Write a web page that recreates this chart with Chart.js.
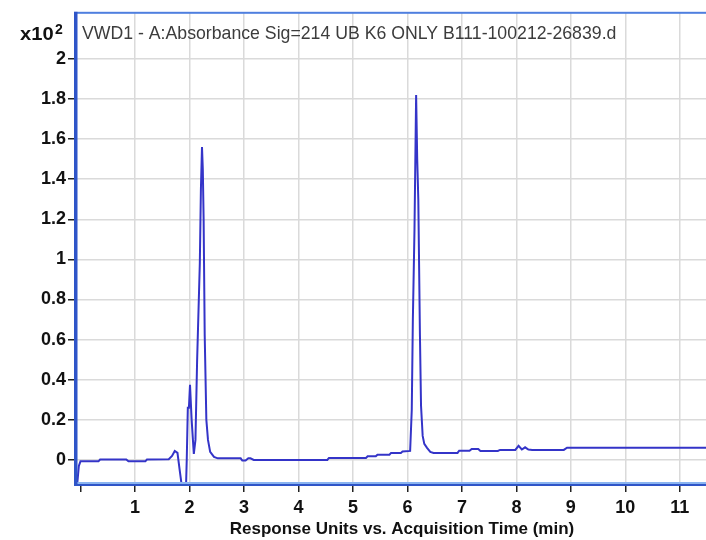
<!DOCTYPE html>
<html>
<head>
<meta charset="utf-8">
<script src="https://cdn.jsdelivr.net/npm/chart.js@4.4.1/dist/chart.umd.min.js"></script>
<style>
html,body{margin:0;padding:0;background:#fff;}
#wrap{width:706px;height:540px;position:relative;}
</style>
</head>
<body>
<div id="wrap"><canvas id="c" width="706" height="540"></canvas></div>
<script>
// Acquisition time (min)
const times = [
  -0.06, -0.03, 0.00, 0.33, 0.36, 0.84, 0.88, 1.19, 1.22, 1.62,
  1.68, 1.73, 1.78, 1.82, 1.85, 1.88, 1.93, 1.95, 1.97, 1.99,
  2.01, 2.04, 2.08, 2.11, 2.14, 2.19, 2.21, 2.23, 2.245, 2.26,
  2.28, 2.31, 2.34, 2.38, 2.45, 2.52, 2.94, 2.97, 3.03, 3.08,
  3.12, 3.18, 4.53, 4.56, 5.24, 5.27, 5.42, 5.45, 5.67, 5.70,
  5.88, 5.91, 6.05, 6.08, 6.10, 6.13, 6.16, 6.18, 6.20, 6.23,
  6.25, 6.28, 6.31, 6.36, 6.42, 6.48, 6.92, 6.95, 7.14, 7.18,
  7.30, 7.34, 7.66, 7.70, 7.98, 8.04, 8.10, 8.16, 8.22, 8.29,
  8.87, 8.93, 11.50
];
// Absorbance (x10^2 response units)
const absorbance = [
  -0.12, -0.03, -0.007, -0.007, 0.002, 0.002, -0.007, -0.007, 0.002, 0.004,
  0.02, 0.045, 0.035, -0.05, -0.11, -0.20, -0.20, 0.00, 0.26, 0.26,
  0.375, 0.20, 0.03, 0.10, 0.49, 0.98, 1.35, 1.56, 1.45, 1.20,
  0.62, 0.20, 0.10, 0.04, 0.015, 0.008, 0.008, -0.003, -0.003, 0.008,
  0.008, 0.000, 0.000, 0.010, 0.010, 0.018, 0.018, 0.026, 0.026, 0.035,
  0.035, 0.042, 0.045, 0.25, 0.70, 1.15, 1.82, 1.50, 1.30, 0.62,
  0.27, 0.12, 0.08, 0.06, 0.04, 0.035, 0.035, 0.046, 0.046, 0.055,
  0.055, 0.045, 0.045, 0.050, 0.050, 0.070, 0.052, 0.063, 0.052, 0.050,
  0.050, 0.061, 0.061
];
const xTickValues = [0, 1, 2, 3, 4, 5, 6, 7, 8, 9, 10, 11];
const xTickLabels = ['', '1', '2', '3', '4', '5', '6', '7', '8', '9', '10', '11'];
const yTickValues = [0, 0.2, 0.4, 0.6, 0.8, 1, 1.2, 1.4, 1.6, 1.8, 2];
const yTickLabels = ['0', '0.2', '0.4', '0.6', '0.8', '1', '1.2', '1.4', '1.6', '1.8', '2'];
const chartTitle = 'VWD1 - A:Absorbance Sig=214 UB K6 ONLY B111-100212-26839.d';
const xAxisTitle = 'Response Units vs. Acquisition Time (min)';
const yMultiplier = ['x10', '2'];

const points = times.map((t, i) => ({x: t, y: absorbance[i]}));

const decor = {
  id: 'decor',
  afterDatasetsDraw(chart) {
    const ctx = chart.ctx;
    const a = chart.chartArea;
    ctx.save();
    // frame
    ctx.fillStyle = '#4f7fdf';
    ctx.fillRect(a.left - 3, a.top - 1, a.right - a.left + 3, 2);
    ctx.fillStyle = '#8ab4f0';
    ctx.fillRect(a.left - 3, a.bottom - 2, a.right - a.left + 3, 2);
    ctx.fillStyle = '#2f55c8';
    ctx.fillRect(a.left - 3, a.bottom, a.right - a.left + 3, 2);
    ctx.fillRect(a.left - 3, a.top - 1, 3.5, a.bottom - a.top + 3);
    // in-plot title
    ctx.fillStyle = '#3c3c3c';
    ctx.font = "17.7px 'Liberation Sans', Arial, sans-serif";
    ctx.textBaseline = 'alphabetic';
    ctx.textAlign = 'left';
    ctx.fillText(chartTitle, 82, 39);
    // multiplier
    ctx.fillStyle = '#111';
    ctx.save();
    ctx.translate(20, 40);
    ctx.scale(1.12, 1);
    ctx.font = "bold 18px 'Liberation Sans', Arial, sans-serif";
    ctx.fillText(yMultiplier[0], 0, 0);
    ctx.restore();
    ctx.font = "bold 14px 'Liberation Sans', Arial, sans-serif";
    ctx.fillText(yMultiplier[1], 55, 34);
    // x axis title
    ctx.font = "bold 17px 'Liberation Sans', Arial, sans-serif";
    ctx.textAlign = 'center';
    ctx.fillText(xAxisTitle, 402, 534);
    ctx.restore();
  }
};

new Chart(document.getElementById('c'), {
  type: 'line',
  data: {
    datasets: [{
      data: points,
      borderColor: '#3434c8',
      borderWidth: 2,
      pointRadius: 0,
      tension: 0,
      fill: false
    }]
  },
  options: {
    responsive: false,
    animation: false,
    events: [],
    layout: {padding: {top: 12, left: 0, right: 0, bottom: 0}},
    plugins: {legend: {display: false}, title: {display: false}, tooltip: {enabled: false}},
    scales: {
      x: {
        type: 'linear',
        min: -0.064,
        max: 11.48,
        afterFit(s) { s.height = 56; },
        afterBuildTicks(s) { s.ticks = xTickValues.map(v => ({value: v})); },
        border: {display: false},
        grid: {
          color: c => (c.tick && c.tick.value === 0) ? 'rgba(0,0,0,0)' : '#dadada',
          lineWidth: 1.5,
          tickColor: '#222',
          tickLength: 8,
          drawTicks: true
        },
        ticks: {
          autoSkip: false,
          maxRotation: 0,
          padding: 5,
          color: '#111',
          font: {family: "'Liberation Sans', Arial, sans-serif", size: 18, weight: 'bold'},
          callback: (v) => { const i = xTickValues.indexOf(v); return i >= 0 ? xTickLabels[i] : ''; }
        }
      },
      y: {
        type: 'linear',
        min: -0.12,
        max: 2.23,
        afterFit(s) { s.width = 77; },
        afterBuildTicks(s) { s.ticks = yTickValues.map(v => ({value: v})); },
        border: {display: false},
        grid: {
          color: '#dadada',
          lineWidth: 1.5,
          tickColor: '#222',
          tickLength: 9
        },
        ticks: {
          autoSkip: false,
          padding: 2,
          color: '#111',
          font: {family: "'Liberation Sans', Arial, sans-serif", size: 18, weight: 'bold'},
          callback: (v) => { const i = yTickValues.indexOf(v); return i >= 0 ? yTickLabels[i] : ''; }
        }
      }
    }
  },
  plugins: [decor]
});
</script>
</body>
</html>
